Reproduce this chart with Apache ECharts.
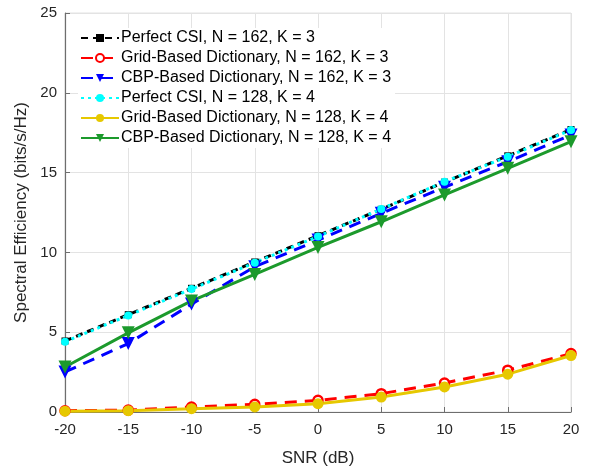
<!DOCTYPE html>
<html lang="en">
<head>
    <meta charset="UTF-8">
    <title>Spectral Efficiency vs SNR</title>
    <script src="https://cdn.jsdelivr.net/npm/echarts@6/dist/echarts.min.js"></script>
</head>
<body style="margin:0;">
<div id="chart" style="width: 592px;height:472px;"></div>
<script>
    // SNR 点 (dB)
    var snr = [-20, -15, -10, -5, 0, 5, 10, 15, 20];

    var perfect162 = [4.45, 6.1, 7.75, 9.4, 11.05, 12.7, 14.4, 16.05, 17.7];
    var grid162 = [0.08, 0.12, 0.31, 0.48, 0.73, 1.15, 1.82, 2.62, 3.66];
    var cbp162 = [2.51, 4.29, 6.76, 9.1, 10.77, 12.45, 14.08, 15.68, 17.36];
    var perfect128 = [4.4, 6.05, 7.7, 9.35, 11.0, 12.72, 14.43, 16.0, 17.67];
    var grid128 = [0.05, 0.08, 0.21, 0.32, 0.52, 0.94, 1.57, 2.37, 3.54];
    var cbp128 = [2.82, 4.96, 6.96, 8.62, 10.31, 11.92, 13.6, 15.27, 16.94];

    var names = [
        'Perfect CSI, N = 162, K = 3',
        'Grid-Based Dictionary, N = 162, K = 3',
        'CBP-Based Dictionary, N = 162, K = 3',
        'Perfect CSI, N = 128, K = 4',
        'Grid-Based Dictionary, N = 128, K = 4',
        'CBP-Based Dictionary, N = 128, K = 4'
    ];

    function pairs(arr) {
        var out = [];
        for (var i = 0; i < snr.length; i++) {
            out.push([snr[i], arr[i]]);
        }
        return out;
    }

    var myChart = echarts.init(document.getElementById('chart'));

    var option = {
        animation: false,
        backgroundColor: '#fff',
        textStyle: { fontFamily: 'Liberation Sans, Arial, sans-serif' },
        grid: {
            left: 65, right: 21, top: 13, bottom: 60,
            show: true,
            borderColor: '#e3e3e3',
            borderWidth: 1
        },
        legend: {
            orient: 'vertical',
            left: 78,
            top: 28,
            itemWidth: 38,
            itemHeight: 10,
            itemGap: 4,
            padding: [2, 4, 2, 2],
            backgroundColor: '#fff',
            textStyle: { fontSize: 16, color: '#000', padding: [0, 0, 0, -3] },
            data: names
        },
        xAxis: {
            type: 'value',
            min: -20, max: 20, interval: 5,
            name: 'SNR (dB)',
            nameLocation: 'middle',
            nameGap: 38,
            nameTextStyle: { fontSize: 17, color: '#262626' },
            axisLine: { onZero: false, lineStyle: { color: '#6e6e6e', width: 1.2 } },
            axisTick: { inside: true, length: 5, lineStyle: { color: '#6e6e6e' } },
            axisLabel: { fontSize: 15, color: '#262626', margin: 10 },
            splitLine: { show: true, lineStyle: { color: '#e3e3e3' } }
        },
        yAxis: {
            type: 'value',
            min: 0, max: 25, interval: 5,
            name: 'Spectral Efficiency (bits/s/Hz)',
            nameLocation: 'middle',
            nameGap: 35,
            nameTextStyle: { fontSize: 17, color: '#262626' },
            axisLine: { show: true, onZero: false, lineStyle: { color: '#6e6e6e', width: 1.2 } },
            axisTick: { show: true, inside: true, length: 5, lineStyle: { color: '#6e6e6e' } },
            axisLabel: { fontSize: 15, color: '#262626', margin: 8 },
            splitLine: { show: true, lineStyle: { color: '#e3e3e3' } }
        },
        series: [
            {
                name: names[0],
                type: 'line',
                data: pairs(perfect162),
                symbol: 'rect',
                symbolSize: 7,
                itemStyle: { color: '#000' },
                lineStyle: { color: '#000', width: 3, type: [7, 5] }
            },
            {
                name: names[1],
                type: 'line',
                data: pairs(grid162),
                symbol: 'circle',
                symbolSize: 9,
                itemStyle: { color: '#fff', borderColor: '#ff0000', borderWidth: 2.5 },
                lineStyle: { color: '#ff0000', width: 3, type: [12, 8] }
            },
            {
                name: names[2],
                type: 'line',
                data: pairs(cbp162),
                symbol: 'triangle',
                symbolRotate: 180,
                symbolSize: 13,
                itemStyle: { color: '#0000ff' },
                lineStyle: { color: '#0000ff', width: 3, type: [12, 8] }
            },
            {
                name: names[3],
                type: 'line',
                data: pairs(perfect128),
                symbol: 'circle',
                symbolSize: 8,
                itemStyle: { color: '#00ffff' },
                lineStyle: { color: '#00ffff', width: 3, type: [3, 4] }
            },
            {
                name: names[4],
                type: 'line',
                data: pairs(grid128),
                symbol: 'circle',
                symbolSize: 11,
                itemStyle: { color: '#e6c800' },
                lineStyle: { color: '#e6c800', width: 3 }
            },
            {
                name: names[5],
                type: 'line',
                data: pairs(cbp128),
                symbol: 'triangle',
                symbolRotate: 180,
                symbolSize: 13,
                itemStyle: { color: '#1c9a2c' },
                lineStyle: { color: '#1c9a2c', width: 3 }
            }
        ]
    };

    myChart.setOption(option);
</script>
</body>
</html>
